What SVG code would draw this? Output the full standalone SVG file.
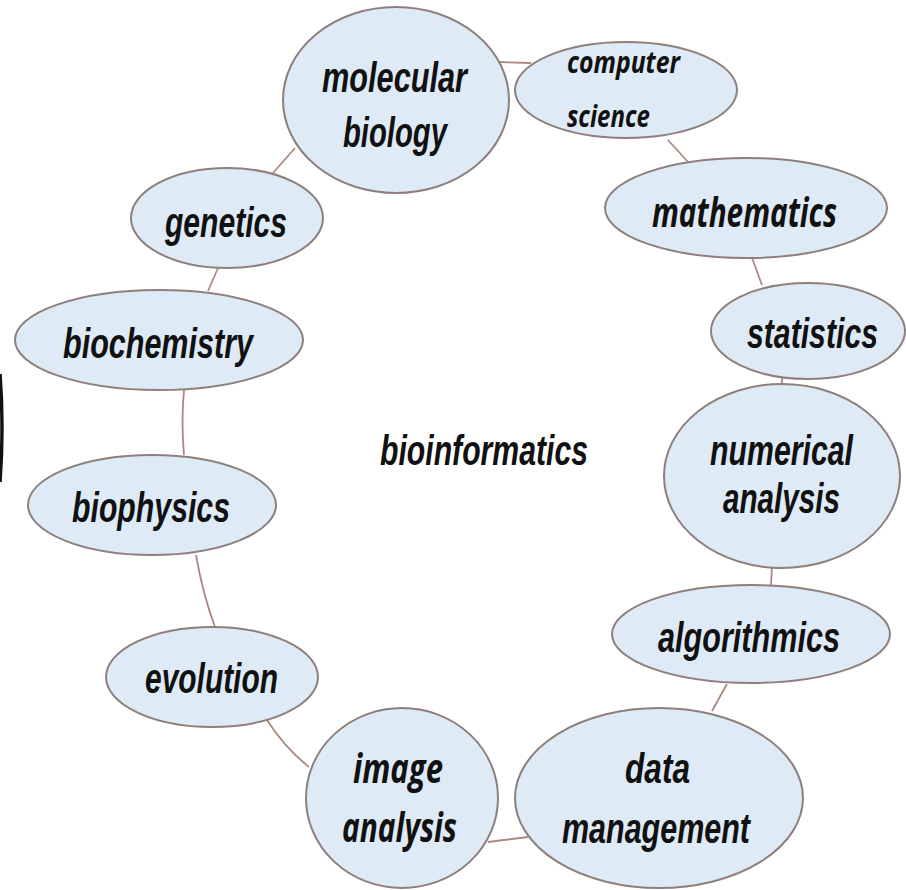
<svg xmlns="http://www.w3.org/2000/svg" width="906" height="890" viewBox="0 0 906 890">
  <style>
    .node ellipse { fill: #deeaf6; stroke: #8f7f7c; stroke-width: 2; }
    .lbl { font-family: "Liberation Sans", Arial, sans-serif; font-weight: bold; font-style: italic; font-size: 43px; fill: #111; text-anchor: start; }
    .cal { font-family: "Open Sans", "Liberation Sans", sans-serif; font-weight: bold; font-style: italic; fill: #111; }
    .conn path { fill: none; stroke: #a88a80; stroke-width: 1.8; }
  </style>
  <rect x="0" y="0" width="906" height="890" fill="#ffffff"/>
  <path d="M0,374 Q4,427 0,482" fill="none" stroke="#111" stroke-width="3.5"/>

  <g id="connectors" class="conn">
    <path d="M498,62 L531,63"/>
    <path d="M295,148 L273,173"/>
    <path d="M668,140 L688,162"/>
    <path d="M752,258 L762,285"/>
    <path d="M782,377 L782,385"/>
    <path d="M772,566 L771,585"/>
    <path d="M727,684 L712,711"/>
    <path d="M488,842 L528,837"/>
    <path d="M267,720 Q285,748 309,767"/>
    <path d="M196,555 Q203,595 215,627"/>
    <path d="M184,390 Q181,422 184,455"/>
    <path d="M218,268 L208,291"/>
  </g>

  <g id="molecular-biology" class="node">
    <ellipse cx="396" cy="100" rx="113" ry="93"/>
    <text class="lbl" x="322" y="92" textLength="145" lengthAdjust="spacingAndGlyphs">molecular</text>
    <text class="lbl" x="343" y="147" textLength="104" lengthAdjust="spacingAndGlyphs">biology</text>
  </g>
  <g id="computer-science" class="node">
    <ellipse cx="626" cy="90" rx="111" ry="48"/>
    <text class="cal" font-size="30" x="567" y="73" textLength="113" lengthAdjust="spacingAndGlyphs">computer</text>
    <text class="cal" font-size="30" x="567" y="127" textLength="83" lengthAdjust="spacingAndGlyphs">science</text>
  </g>
  <g id="mathematics" class="node">
    <ellipse cx="746" cy="208" rx="141" ry="50"/>
    <text class="cal" font-size="42" x="652" y="227" textLength="185" lengthAdjust="spacingAndGlyphs">mathematics</text>
  </g>
  <g id="statistics" class="node">
    <ellipse cx="808" cy="331" rx="97" ry="48"/>
    <text class="lbl" x="747" y="348" textLength="131" lengthAdjust="spacingAndGlyphs">statistics</text>
  </g>
  <g id="numerical-analysis" class="node">
    <ellipse cx="782" cy="476" rx="118" ry="92"/>
    <text class="lbl" x="710" y="465" textLength="143" lengthAdjust="spacingAndGlyphs">numerical</text>
    <text class="lbl" x="723" y="513" textLength="117" lengthAdjust="spacingAndGlyphs">analysis</text>
  </g>
  <g id="algorithmics" class="node">
    <ellipse cx="751" cy="634" rx="139" ry="49"/>
    <text class="lbl" x="658" y="652" textLength="182" lengthAdjust="spacingAndGlyphs">algorithmics</text>
  </g>
  <g id="data-management" class="node">
    <ellipse cx="659" cy="798" rx="144" ry="90"/>
    <text class="lbl" x="625" y="783" textLength="65" lengthAdjust="spacingAndGlyphs">data</text>
    <text class="lbl" x="562" y="843" textLength="188" lengthAdjust="spacingAndGlyphs">management</text>
  </g>
  <g id="image-analysis" class="node">
    <ellipse cx="402" cy="798" rx="96" ry="90"/>
    <text class="cal" font-size="42" x="353" y="783" textLength="90" lengthAdjust="spacingAndGlyphs">image</text>
    <text class="cal" font-size="42" x="342" y="842" textLength="115" lengthAdjust="spacingAndGlyphs">analysis</text>
  </g>
  <g id="evolution" class="node">
    <ellipse cx="212" cy="677" rx="106" ry="50"/>
    <text class="lbl" x="145" y="693" textLength="133" lengthAdjust="spacingAndGlyphs">evolution</text>
  </g>
  <g id="biophysics" class="node">
    <ellipse cx="152" cy="505" rx="124" ry="50"/>
    <text class="lbl" x="72" y="522" textLength="158" lengthAdjust="spacingAndGlyphs">biophysics</text>
  </g>
  <g id="biochemistry" class="node">
    <ellipse cx="159" cy="340" rx="144" ry="50"/>
    <text class="lbl" x="63" y="358" textLength="190" lengthAdjust="spacingAndGlyphs">biochemistry</text>
  </g>
  <g id="genetics" class="node">
    <ellipse cx="227" cy="218" rx="96" ry="50"/>
    <text class="lbl" x="165" y="237" textLength="122" lengthAdjust="spacingAndGlyphs">genetics</text>
  </g>
  <g id="bioinformatics">
    <text class="lbl" font-size="40" x="380" y="465" textLength="208" lengthAdjust="spacingAndGlyphs">bioinformatics</text>
  </g>
</svg>
